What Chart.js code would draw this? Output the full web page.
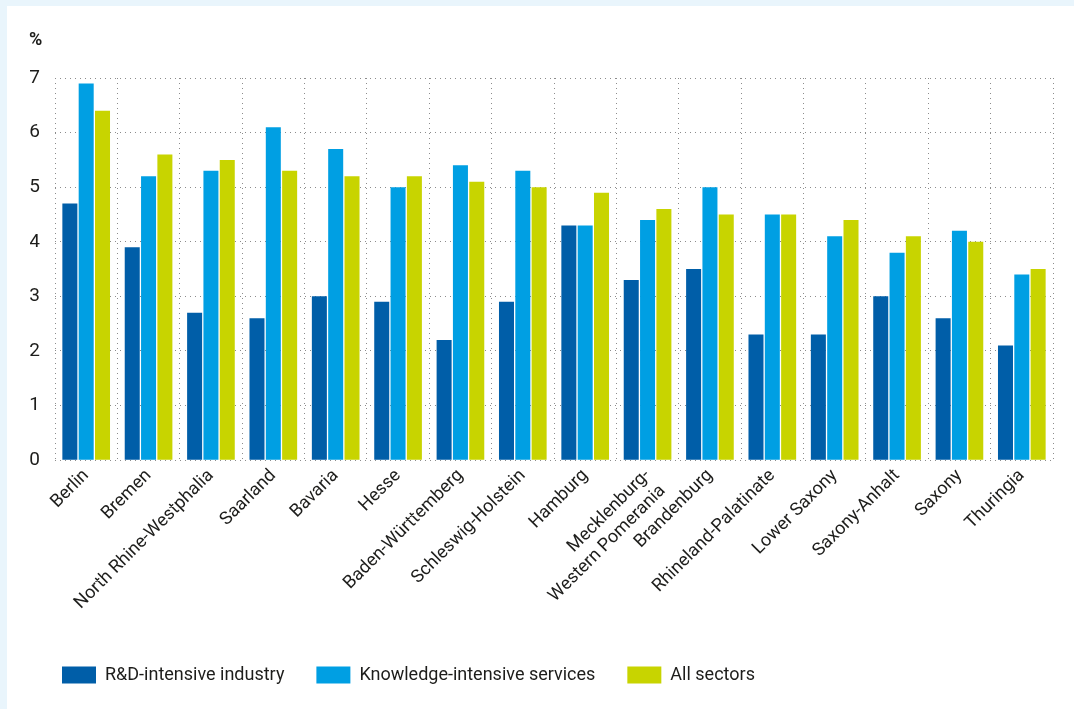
<!DOCTYPE html>
<html>
<head>
<meta charset="utf-8">
<script src="https://cdn.jsdelivr.net/npm/chart.js@4/dist/chart.umd.min.js"></script>
<style>
  html, body { margin: 0; padding: 0; background: #e9f5fc; }
  #wrap { position: absolute; left: 0; top: 0; width: 1074px; height: 709px; }
</style>
</head>
<body>
<div id="wrap"><canvas id="mycanvas" width="1074" height="709"></canvas></div>
<script>
var states = ["Berlin", "Bremen", "North Rhine-Westphalia", "Saarland", "Bavaria", "Hesse",
  "Baden-Württemberg", "Schleswig-Holstein", "Hamburg", ["Mecklenburg-", "Western Pomerania"],
  "Brandenburg", "Rhineland-Palatinate", "Lower Saxony", "Saxony-Anhalt", "Saxony", "Thuringia"];
var rdIndustry = [4.7, 3.9, 2.7, 2.6, 3.0, 2.9, 2.2, 2.9, 4.3, 3.3, 3.5, 2.3, 2.3, 3.0, 2.6, 2.1];
var knowServices = [6.9, 5.2, 5.3, 6.1, 5.7, 5.0, 5.4, 5.3, 4.3, 4.4, 5.0, 4.5, 4.1, 3.8, 4.2, 3.4];
var allSectors = [6.4, 5.6, 5.5, 5.3, 5.2, 5.2, 5.1, 5.0, 4.9, 4.6, 4.5, 4.5, 4.4, 4.1, 4.0, 3.5];
var yTicks = [0, 1, 2, 3, 4, 5, 6, 7];

var fontFam = "Roboto, 'DejaVu Sans', sans-serif";
var textCol = "#1d1d1b";

// panel background + "%" label
var panelPlugin = {
	id: "panel",
	beforeDraw: function(chart) {
		var c = chart.ctx;
		c.save();
		c.fillStyle = "#e9f5fc";
		c.fillRect(0, 0, chart.width, chart.height);
		c.fillStyle = "#ffffff";
		c.fillRect(7, 6, chart.width - 7, chart.height - 6);
		c.restore();
	},
	afterDraw: function(chart) {
		var c = chart.ctx;
		c.save();
		c.fillStyle = textCol;
		c.font = "bold 18px " + fontFam;
		c.textBaseline = "middle";
		c.fillText("%", 29, 40);
		c.restore();
	}
};

var chartdata = {
	labels: states,
	datasets: [
		{
			label: "R&D-intensive industry",
			backgroundColor: "#005ea8",
			data: rdIndustry
		},
		{
			label: "Knowledge-intensive services",
			backgroundColor: "#009fe3",
			data: knowServices
		},
		{
			label: "All sectors",
			backgroundColor: "#c8d400",
			data: allSectors
		}
	]
};

var ctx = document.getElementById("mycanvas");
var BarGraph = new Chart(ctx, {
	type: "bar",
	data: chartdata,
	plugins: [panelPlugin],
	options: {
		responsive: false,
		animation: false,
		devicePixelRatio: 1,
		categoryPercentage: 0.785,
		barPercentage: 0.92,
		layout: { padding: { left: 30, right: 21, top: 78, bottom: 15 } },
		scales: {
			x: {
				grid: { color: "#8c8c8c", drawTicks: false, offset: true },
				border: { display: false, dash: [1, 4] },
				ticks: {
					color: textCol,
					font: { family: fontFam, size: 18 },
					minRotation: 45,
					maxRotation: 45,
					padding: 5,
					autoSkip: false
				}
			},
			y: {
				min: 0,
				max: 7,
				afterFit: function(scale) { scale.width = 25; },
				afterBuildTicks: function(scale) {
					scale.ticks = yTicks.map(function(v) { return { value: v }; });
				},
				grid: { color: "#8c8c8c", drawTicks: false },
				border: { display: false, dash: [1, 4] },
				ticks: {
					color: textCol,
					font: { family: fontFam, size: 19 },
					padding: 15
				}
			}
		},
		plugins: {
			legend: {
				position: "bottom",
				align: "start",
				labels: {
					boxWidth: 34,
					boxHeight: 17,
					padding: 32,
					color: textCol,
					font: { family: fontFam, size: 18 }
				}
			},
			tooltip: { enabled: false }
		}
	}
});
</script>
</body>
</html>
